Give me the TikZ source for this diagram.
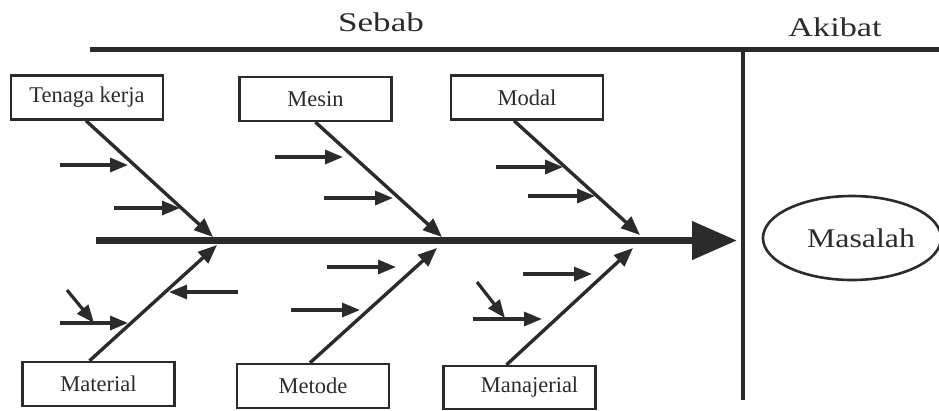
\documentclass[tikz,border=0pt]{standalone}
\usepackage{fontspec}
\setmainfont{Liberation Serif}
\usetikzlibrary{arrows.meta,shapes.geometric}
\definecolor{ink}{HTML}{2B2B2B}
\begin{document}
\begin{tikzpicture}[x=1pt,y=-1pt,
  every node/.style={text=ink},
  causebox/.style={draw=ink,line width=2.4pt,minimum width=152pt,minimum height=44pt,inner sep=0pt,
    font=\fontsize{22.5}{25}\selectfont},
  bone/.style={draw=ink,line width=3.4pt,-{Triangle[length=19pt,width=15pt]}},
  sub/.style={draw=ink,line width=3.2pt,-{Triangle[length=18pt,width=14pt]}},
  headtext/.style={font=\fontsize{27}{30}\selectfont,inner sep=0pt}
]
\useasboundingbox (0,0) rectangle (939,410);

% header
\node[headtext] (sebab) at (381,22) {\scalebox{1.3}[1]{Sebab}};
\node[headtext] (akibat) at (835,27) {\scalebox{1.27}[1]{Akibat}};
\coordinate (topL) at (90,49.5);
\coordinate (topR) at (939,49.5);
\draw[ink,line width=5pt] (topL) -- (topR);
\coordinate (vT) at (743,52);
\coordinate (vB) at (743,400);
\draw[ink,line width=3.2pt] (vT) -- (vB);

% effect
\node[draw=ink,line width=2.6pt,ellipse,minimum width=169pt,minimum height=84pt,inner sep=0pt,
  font=\fontsize{27}{30}\selectfont] (masalah) at (852,238) {\hspace*{18pt}\scalebox{1.18}[1]{Masalah}};

% spine
\coordinate (spS) at (96,240.5);
\coordinate (spE) at (737,240.5);
\draw[ink,line width=7.5pt,-{Triangle[length=45pt,width=37pt]}] (spS) -- (spE);

% cause boxes
\node[causebox] (tk) at (87,97.5) {Tenaga kerja};
\node[causebox] (mesin) at (315.5,99) {Mesin};
\node[causebox] (modal) at (527,97.5) {Modal};
\node[causebox] (material) at (98.5,384) {Material};
\node[causebox] (metode) at (313,386) {Metode};
\node[causebox,minimum height=43pt] (manaj) at (519.5,387.5) {\hspace*{20pt}Manajerial};

% bone ends on spine
\coordinate (tkE) at (213,237);
\coordinate (meE) at (442,237);
\coordinate (moE) at (640,235);
\coordinate (maE) at (217,245);
\coordinate (mtE) at (437,248);
\coordinate (mjE) at (633,248);

\draw[bone] ([xshift=-1pt]tk.south) -- (tkE);
\draw[bone] (mesin.south) -- (meE);
\draw[bone] ([xshift=-13pt]modal.south) -- (moE);
\draw[bone] ([xshift=-9pt]material.north) -- (maE);
\draw[bone] ([xshift=-3pt]metode.north) -- (mtE);
\draw[bone] ([xshift=-13pt]manaj.north) -- (mjE);

% sub-causes: Tenaga kerja
\coordinate (a1s) at (60,165); \coordinate (a1e) at (128,165);
\coordinate (a2s) at (114,208); \coordinate (a2e) at (180,208);
\draw[sub] (a1s) -- (a1e);
\draw[sub] (a2s) -- (a2e);
% Mesin
\coordinate (b1s) at (275,157); \coordinate (b1e) at (343,157);
\coordinate (b2s) at (324,198); \coordinate (b2e) at (393,198);
\draw[sub] (b1s) -- (b1e);
\draw[sub] (b2s) -- (b2e);
% Modal
\coordinate (c1s) at (496,167); \coordinate (c1e) at (563,167);
\coordinate (c2s) at (528,196); \coordinate (c2e) at (595,196);
\draw[sub] (c1s) -- (c1e);
\draw[sub] (c2s) -- (c2e);
% Material
\coordinate (d1s) at (238,292); \coordinate (d1e) at (169,292);
\coordinate (d2s) at (60,323); \coordinate (d2e) at (128,323);
\coordinate (d3s) at (67,290); \coordinate (d3e) at (94,323);
\draw[sub] (d1s) -- (d1e);
\draw[sub] (d2s) -- (d2e);
\draw[sub] (d3s) -- (d3e);
% Metode
\coordinate (e1s) at (327,267); \coordinate (e1e) at (396,267);
\coordinate (e2s) at (291,310); \coordinate (e2e) at (360,310);
\draw[sub] (e1s) -- (e1e);
\draw[sub] (e2s) -- (e2e);
% Manajerial
\coordinate (f1s) at (523,274); \coordinate (f1e) at (592,274);
\coordinate (f2s) at (473,319); \coordinate (f2e) at (542,319);
\coordinate (f3s) at (477,282); \coordinate (f3e) at (505,318);
\draw[sub] (f1s) -- (f1e);
\draw[sub] (f2s) -- (f2e);
\draw[sub] (f3s) -- (f3e);
\end{tikzpicture}
\end{document}
